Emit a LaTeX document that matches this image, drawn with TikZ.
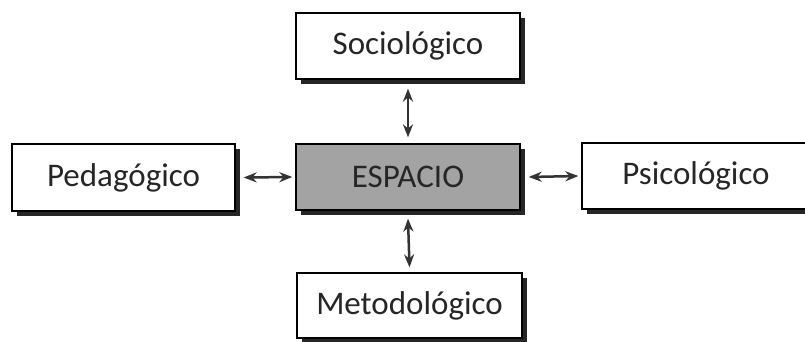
\documentclass[tikz,border=0pt]{standalone}
\usepackage{fontspec}
\setmainfont{Carlito}
\usetikzlibrary{arrows.meta,shadows}
\begin{document}
\begin{tikzpicture}[x=1pt,y=-1pt,
  box/.style={draw=black,line width=1.3pt,fill=white,minimum width=224pt,minimum height=66pt,
    inner sep=0pt,font=\fontsize{33}{38}\selectfont,text=black!85,
    drop shadow={shadow xshift=4.5pt,shadow yshift=-4.5pt,fill=black!85,opacity=1}},
  centre/.style={box,fill=black!36},
  arr/.style={line width=2.5pt,black!80,{Stealth[length=13pt,width=10pt]}-{Stealth[length=13pt,width=10pt]}}]
\useasboundingbox (0,0) rectangle (805,341);
\clip (0,0) rectangle (805,341);
\fill[white] (0,0) rectangle (805,341);
\node[box] (soc) at (408,46) {Sociológico};
\node[centre] (esp) at (408,177) {ESPACIO};
\node[box,minimum width=223pt,minimum height=67pt] (ped) at (123.5,177.5) {Pedagógico};
\node[box,minimum width=228pt] (psi) at (696,176) {Psicológico};
\node[box,minimum width=225pt,minimum height=65pt] (met) at (409.5,305.5) {Metodológico};
\draw[arr] ([yshift=-9pt]soc.south) -- ([yshift=6pt]esp.north);
\draw[arr] ([yshift=-8pt]esp.south) -- ([yshift=5pt]met.north);
\draw[arr] ([xshift=8pt]ped.east) -- ([xshift=-3pt]esp.west);
\draw[arr] ([xshift=8pt]esp.east) -- ([xshift=-3pt]psi.west);
\end{tikzpicture}
\end{document}
